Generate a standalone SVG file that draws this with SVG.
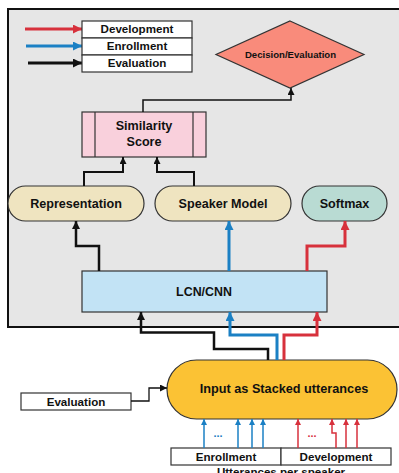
<svg xmlns="http://www.w3.org/2000/svg" width="399" height="473" viewBox="0 0 399 473">
<defs>
<marker id="ab" viewBox="0 0 10 10" refX="10" refY="5" markerUnits="userSpaceOnUse" markerWidth="9" markerHeight="8" orient="auto"><path d="M0,0 L10,5 L0,10 Z" fill="#111"/></marker>
<marker id="abs" viewBox="0 0 10 10" refX="10" refY="5" markerUnits="userSpaceOnUse" markerWidth="8" markerHeight="7" orient="auto"><path d="M0,0 L10,5 L0,10 Z" fill="#111"/></marker>
<marker id="au" viewBox="0 0 10 10" refX="10" refY="5" markerUnits="userSpaceOnUse" markerWidth="9" markerHeight="9" orient="auto"><path d="M0,0 L10,5 L0,10 Z" fill="#1b80c4"/></marker>
<marker id="ar" viewBox="0 0 10 10" refX="10" refY="5" markerUnits="userSpaceOnUse" markerWidth="9" markerHeight="9" orient="auto"><path d="M0,0 L10,5 L0,10 Z" fill="#d7313c"/></marker>
<marker id="aus" viewBox="0 0 10 10" refX="10" refY="5" markerUnits="userSpaceOnUse" markerWidth="8" markerHeight="6" orient="auto"><path d="M0,0 L10,5 L0,10 Z" fill="#1b80c4"/></marker>
<marker id="ars" viewBox="0 0 10 10" refX="10" refY="5" markerUnits="userSpaceOnUse" markerWidth="8" markerHeight="6" orient="auto"><path d="M0,0 L10,5 L0,10 Z" fill="#d7313c"/></marker>
<marker id="al" viewBox="0 0 10 10" refX="10" refY="5" markerUnits="userSpaceOnUse" markerWidth="11" markerHeight="9" orient="auto"><path d="M0,0 L10,5 L0,10 Z" fill="context-stroke"/></marker>
<marker id="alr" viewBox="0 0 10 10" refX="10" refY="5" markerUnits="userSpaceOnUse" markerWidth="11" markerHeight="9" orient="auto"><path d="M0,0 L10,5 L0,10 Z" fill="#d7313c"/></marker>
<marker id="alu" viewBox="0 0 10 10" refX="10" refY="5" markerUnits="userSpaceOnUse" markerWidth="11" markerHeight="9" orient="auto"><path d="M0,0 L10,5 L0,10 Z" fill="#1b80c4"/></marker>
<marker id="alb" viewBox="0 0 10 10" refX="10" refY="5" markerUnits="userSpaceOnUse" markerWidth="11" markerHeight="9" orient="auto"><path d="M0,0 L10,5 L0,10 Z" fill="#111"/></marker>
</defs>
<style>
text{font-family:"Liberation Sans",Arial,sans-serif;font-weight:bold;fill:#111;text-anchor:middle}
.box{stroke:#333;stroke-width:1.2}
.c{fill:none;stroke-linejoin:miter}
.k{stroke:#111}
.u{stroke:#1b80c4}
.r{stroke:#d7313c}
.t12{font-size:12.6px}
.t11{font-size:11.6px}
</style>
<rect x="8" y="9" width="396" height="318" fill="#e6e6e6" stroke="#111" stroke-width="2"/>

<g id="legend">
<path class="c r" stroke-width="3" d="M25,29 H82" marker-end="url(#alr)"/>
<path class="c u" stroke-width="3" d="M26,46 H82" marker-end="url(#alu)"/>
<path class="c k" stroke-width="3" d="M28,63 H82" marker-end="url(#alb)"/>
<rect class="box" x="82" y="21" width="110" height="17" fill="#fff"/>
<rect class="box" x="82" y="38" width="110" height="17" fill="#fff"/>
<rect class="box" x="82" y="55" width="110" height="17" fill="#fff"/>
<text class="t11" x="137" y="33.2">Development</text>
<text class="t11" x="137" y="50.2">Enrollment</text>
<text class="t11" x="137" y="67.2">Evaluation</text>
</g>

<g id="decision">
<polygon class="box" points="290,21 364,54.5 290,88 216,54.5" fill="#f98b7b"/>
<text x="290.5" y="57.8" style="font-size:9.6px">Decision/Evaluation</text>
</g>

<g id="similarity">
<rect class="box" x="82" y="112" width="124" height="45" fill="#f9d0dc"/>
<line class="box" x1="95" y1="112" x2="95" y2="157"/>
<line class="box" x1="193" y1="112" x2="193" y2="157"/>
<text class="t12" x="144" y="129.5">Similarity</text>
<text class="t12" x="144" y="145.5">Score</text>
</g>

<g id="representation">
<rect class="box" x="8" y="186" width="136" height="35" rx="17.5" fill="#efe4c0"/>
<text class="t12" x="76" y="208">Representation</text>
</g>
<g id="speaker-model">
<rect class="box" x="155" y="186" width="136" height="35" rx="17.5" fill="#efe4c0"/>
<text class="t12" x="223" y="208">Speaker Model</text>
</g>
<g id="softmax">
<rect class="box" x="302" y="186" width="85" height="35" rx="17.5" fill="#b9dbd3"/>
<text class="t12" x="344.5" y="208">Softmax</text>
</g>

<g id="lcn">
<rect class="box" x="82" y="271" width="245" height="41" fill="#c2e3f5"/>
<text x="204" y="296.3" style="font-size:12.4px">LCN/CNN</text>
</g>

<g id="input">
<rect class="box" x="167" y="360" width="230" height="59" rx="29.5" fill="#fbc234"/>
<text x="284" y="392.5" style="font-size:12.7px">Input as Stacked utterances</text>
</g>

<g id="evaluation">
<rect class="box" x="21" y="393" width="110" height="17" fill="#fff"/>
<text class="t11" x="76" y="405.5">Evaluation</text>
</g>

<g id="utterances">
<rect class="box" x="171" y="448" width="110" height="17" fill="#fff"/>
<rect class="box" x="281" y="448" width="110" height="17" fill="#fff"/>
<text class="t11" x="226" y="460.5">Enrollment</text>
<text class="t11" x="336" y="460.5">Development</text>
<text class="t11" x="281" y="475.5">Utterances per speaker</text>
<text x="218" y="437" style="font-size:11px;fill:#1b80c4">...</text>
<text x="312" y="437" style="font-size:11px;fill:#d7313c">...</text>
</g>

<g id="connectors">
<path class="c k" stroke-width="1.5" d="M143,112 V100 H291 V88" marker-end="url(#abs)"/>
<path class="c k" stroke-width="2" d="M84,186 V172 H123 V157" marker-end="url(#abs)"/>
<path class="c k" stroke-width="2" d="M194,186 V172 H157 V157" marker-end="url(#abs)"/>
<path class="c k" stroke-width="2.5" d="M99,271 V246 H76 V221" marker-end="url(#ab)"/>
<path class="c u" stroke-width="3" d="M229,271 V221" marker-end="url(#au)"/>
<path class="c r" stroke-width="3" d="M307,271 V246 H345 V221" marker-end="url(#ar)"/>
<path class="c k" stroke-width="2.5" d="M268,360 V349 H214 V332.5 H141 V312" marker-end="url(#ab)"/>
<path class="c u" stroke-width="3" d="M277,360 V335 H230 V312" marker-end="url(#au)"/>
<path class="c r" stroke-width="3" d="M284,360 V335 H317 V312" marker-end="url(#ar)"/>
<path class="c k" stroke-width="1.3" d="M131,401 H149 V388 H167" marker-end="url(#abs)"/>
<path class="c u" stroke-width="1.5" d="M204,448 V419" marker-end="url(#aus)"/>
<path class="c u" stroke-width="1.5" d="M238,448 V419" marker-end="url(#aus)"/>
<path class="c u" stroke-width="1.5" d="M252,448 V419" marker-end="url(#aus)"/>
<path class="c u" stroke-width="1.5" d="M263,448 V419" marker-end="url(#aus)"/>
<path class="c r" stroke-width="1.5" d="M298,448 V419" marker-end="url(#ars)"/>
<path class="c r" stroke-width="1.5" d="M336,448 V433 H332 V419" marker-end="url(#ars)"/>
<path class="c r" stroke-width="1.5" d="M346,448 V419" marker-end="url(#ars)"/>
<path class="c r" stroke-width="1.5" d="M357,448 V419" marker-end="url(#ars)"/>
</g>
</svg>
